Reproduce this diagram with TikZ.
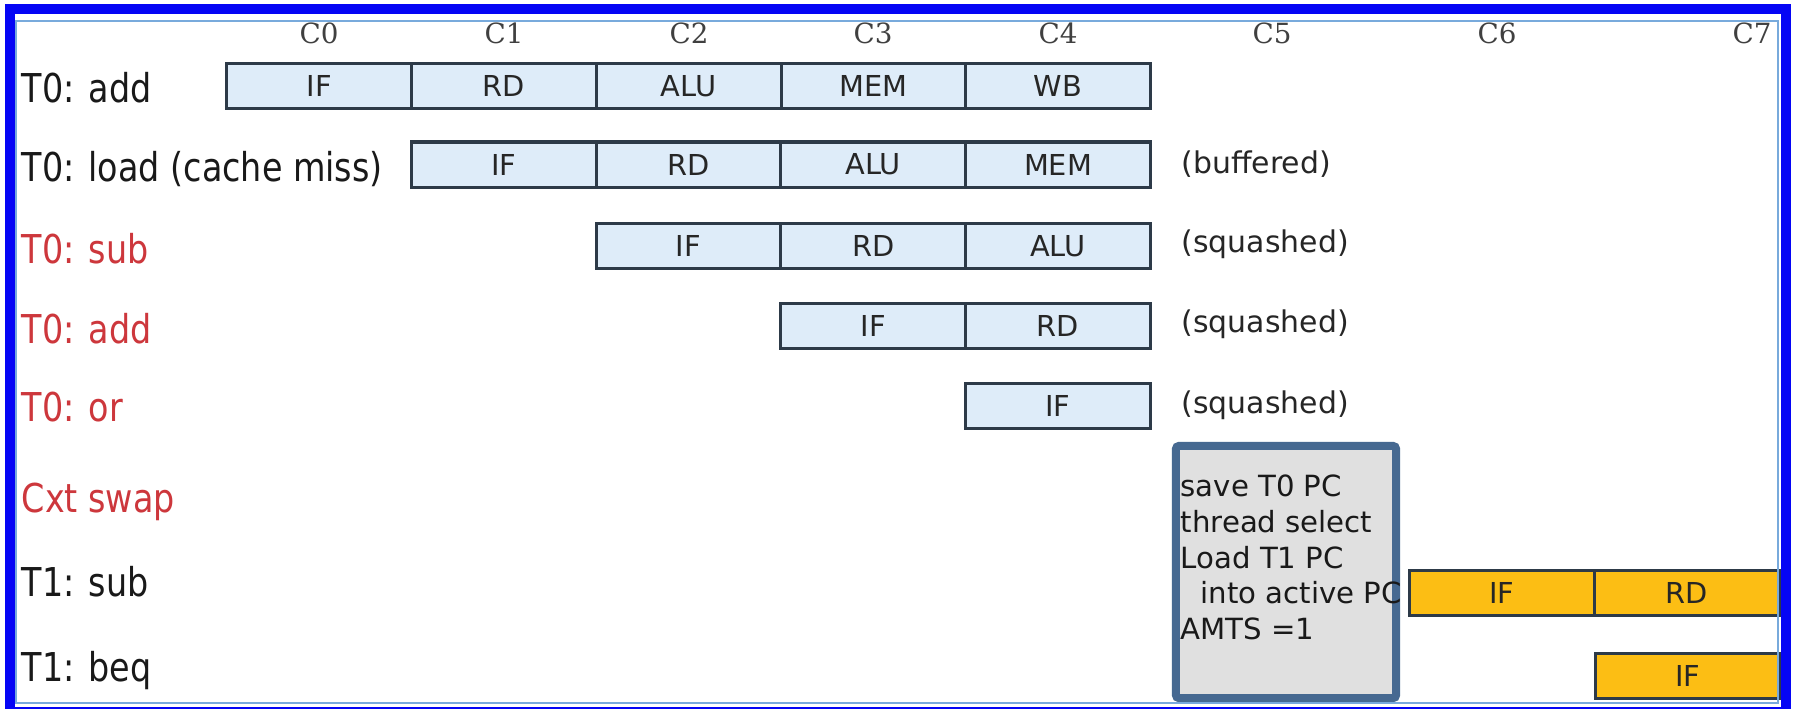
\documentclass[tikz,border=0pt]{standalone}
\usepackage{fontspec}
\usetikzlibrary{positioning}
\setmainfont{DejaVu Sans}
\newfontfamily\lblfont[FakeStretch=0.84]{DejaVu Sans}
\newfontfamily\cycfont{DejaVu Serif}

\definecolor{cellblue}{RGB}{222,236,249}
\definecolor{tone}{RGB}{252,190,20}
\definecolor{edge}{RGB}{45,58,72}
\definecolor{squash}{RGB}{205,55,60}
\definecolor{swapedge}{RGB}{70,105,145}
\definecolor{swapfill}{RGB}{224,224,224}
\definecolor{frameblue}{RGB}{5,5,245}
\definecolor{rimblue}{RGB}{120,170,220}

\tikzset{
  stage/.style={draw=edge,line width=0.03cm,fill=cellblue,minimum width=1.846cm,
    minimum height=0.45cm,inner sep=0pt,outer sep=0pt,text=black!85,
    font=\fontsize{8.2}{9}\selectfont},
  tstage/.style={stage,fill=tone},
  lbl/.style={anchor=base west,inner sep=0pt,text=black!90,
    font=\lblfont\fontsize{11.3}{13}\selectfont},
  dropped/.style={lbl,text=squash},
  note/.style={anchor=west,inner sep=0pt,text=black!85,font=\fontsize{8.5}{10}\selectfont},
  cyc/.style={inner sep=0pt,text=black!75,font=\cycfont\fontsize{7.9}{9}\selectfont},
  swapbox/.style={draw=swapedge,line width=0.08cm,fill=swapfill,rounded corners=0.03cm,
    minimum width=2.2cm,minimum height=2.52cm,inner sep=0pt},
  swaptext/.style={anchor=north west,align=left,inner sep=0pt,text=black!90,
    font=\fontsize{8.3}{10.2}\selectfont}
}

\begin{document}
\begin{tikzpicture}[x=0.01cm,y=-0.01cm]
  \useasboundingbox (0,0) rectangle (1795,708);
  \fill[white] (0,0) rectangle (1795,708);

  % cycle numbers
  \foreach \n/\x in {0/319,1/504,2/689,3/873,4/1058,5/1272,6/1497,7/1752}
    \node[cyc] (c\n) at (\x,33) {C\n};

  % instructions
  \node[lbl] (l1) at (21,102) {T0: add};
  \node[lbl] (l2) at (21,181) {T0: load (cache miss)};
  \node[dropped] (l3) at (21,263) {T0: sub};
  \node[dropped] (l4) at (21,343) {T0: add};
  \node[dropped] (l5) at (21,421) {T0: or};
  \node[dropped] (l6) at (21,512) {Cxt swap};
  \node[lbl] (l7) at (21,596) {T1: sub};
  \node[lbl] (l8) at (21,681) {T1: beq};

  % T0 pipeline
  \node[stage] (a0) at (319.3,86) {IF};
  \node[stage,right=0pt of a0] (a1) {RD};
  \node[stage,right=0pt of a1] (a2) {ALU};
  \node[stage,right=0pt of a2] (a3) {MEM};
  \node[stage,right=0pt of a3] (a4) {WB};

  \node[stage] (b0) at (503.9,164.5) {IF};
  \node[stage,right=0pt of b0] (b1) {RD};
  \node[stage,right=0pt of b1] (b2) {ALU};
  \node[stage,right=0pt of b2] (b3) {MEM};

  \node[stage] (d0) at (688.5,246) {IF};
  \node[stage,right=0pt of d0] (d1) {RD};
  \node[stage,right=0pt of d1] (d2) {ALU};

  \node[stage] (e0) at (873.1,325.5) {IF};
  \node[stage,right=0pt of e0] (e1) {RD};

  \node[stage] (f0) at (1057.7,405.5) {IF};

  \node[note] (n2) at (1181,164) {(buffered)};
  \node[note] (n3) at (1181,244) {(squashed)};
  \node[note] (n4) at (1181,324) {(squashed)};
  \node[note] (n5) at (1181,405) {(squashed)};

  % context switch
  \node[swapbox] (swap) at (1286,572) {};

  % T1 pipeline
  \node[tstage] (g0) at (1502,592.5) {IF};
  \node[tstage,right=0pt of g0] (g1) {RD};
  \node[tstage] (h0) at (1688,676) {IF};

  \node[swaptext] (swaptxt) at (1180,474) {save T0 PC\\thread select\\Load T1 PC\\
    \hspace*{0.2cm}into active PC\\AMTS =1};

  % frame
  \draw[rimblue,line width=0.015cm] (16,21) rectangle (1778,703);
  \draw[frameblue,line width=0.1cm] (10,8.5) rectangle (1786,712);
\end{tikzpicture}
\end{document}
